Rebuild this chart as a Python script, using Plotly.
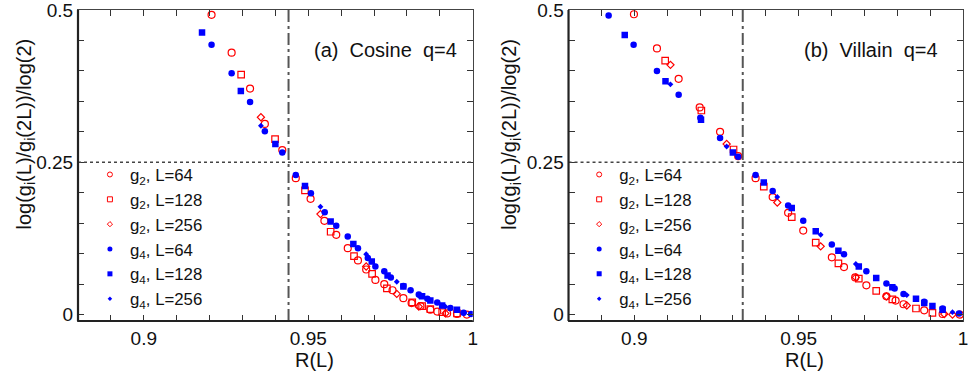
import plotly.graph_objects as go

# ---------------- data ----------------
# Panel (a) Cosine q=4
cos_g2_L64_x = [0.9206, 0.9267, 0.9323, 0.9368, 0.9421, 0.9462, 0.9507, 0.9549, 0.9585, 0.9620, 0.9651, 0.9676,
                0.9704, 0.9731, 0.9756, 0.9789, 0.9814, 0.9841, 0.9871, 0.9892, 0.9922, 0.9952, 0.9982]
cos_g2_L64_y = [0.492, 0.430, 0.371, 0.313, 0.270, 0.224, 0.190, 0.154, 0.131, 0.109, 0.089, 0.074,
                0.057, 0.050, 0.040, 0.027, 0.019, 0.014, 0.008, 0.005, 0.002, 0.001, 0.000]
cos_g2_L128_x = [0.9296, 0.9399, 0.9490, 0.9568, 0.9639, 0.9694, 0.9739, 0.9816, 0.9846, 0.9871, 0.9907, 0.9952]
cos_g2_L128_y = [0.394, 0.288, 0.204, 0.136, 0.096, 0.067, 0.043, 0.020, 0.014, 0.009, 0.004, 0.002]
cos_g2_L256_x = [0.9356, 0.9537, 0.9676, 0.9769, 0.9836, 0.9917]
cos_g2_L256_y = [0.324, 0.165, 0.079, 0.034, 0.013, 0.002]
cos_g4_L64_x = [0.9206, 0.9267, 0.9323, 0.9368, 0.9421, 0.9462, 0.9508, 0.9550, 0.9585, 0.9620, 0.9651, 0.9681,
                0.9704, 0.9731, 0.9751, 0.9789, 0.9811, 0.9836, 0.9862, 0.9892, 0.9932, 0.9972, 0.9995]
cos_g4_L64_y = [0.443, 0.396, 0.349, 0.301, 0.266, 0.229, 0.199, 0.168, 0.146, 0.128, 0.109, 0.093,
                0.079, 0.071, 0.061, 0.047, 0.040, 0.033, 0.026, 0.020, 0.011, 0.003, 0.001]
cos_g4_L128_x = [0.9177, 0.9295, 0.9400, 0.9490, 0.9568, 0.9637, 0.9693, 0.9741, 0.9789, 0.9846, 0.9871, 0.9907, 0.9952]
cos_g4_L128_y = [0.463, 0.367, 0.280, 0.211, 0.153, 0.116, 0.087, 0.064, 0.046, 0.030, 0.023, 0.015, 0.008]
cos_g4_L256_x = [0.9356, 0.9537, 0.9676, 0.9769, 0.9836, 0.9917, 0.9975]
cos_g4_L256_y = [0.310, 0.177, 0.099, 0.054, 0.031, 0.013, 0.003]

# Panel (b) Villain q=4
vil_g2_L64_x = [0.8999, 0.9069, 0.9135, 0.9199, 0.9261, 0.9316, 0.9369, 0.9421, 0.9468, 0.9514, 0.9601, 0.9638,
                0.9672, 0.9706, 0.9767, 0.9795, 0.9819, 0.9882, 0.9938, 0.9990]
vil_g2_L64_y = [0.493, 0.437, 0.387, 0.340, 0.300, 0.260, 0.224, 0.193, 0.167, 0.138, 0.094, 0.078,
                0.061, 0.048, 0.030, 0.023, 0.017, 0.007, 0.001, 0.000]
vil_g2_L128_x = [0.9094, 0.9204, 0.9302, 0.9394, 0.9479, 0.9552, 0.9621, 0.9683, 0.9736, 0.9785, 0.9857, 0.9907]
vil_g2_L128_y = [0.417, 0.335, 0.271, 0.210, 0.160, 0.118, 0.084, 0.059, 0.039, 0.025, 0.010, 0.003]
vil_g2_L256_x = [0.9110, 0.9281, 0.9435, 0.9567, 0.9674, 0.9767, 0.9829, 0.9943, 0.9968]
vil_g2_L256_y = [0.410, 0.280, 0.184, 0.112, 0.061, 0.030, 0.015, 0.001, 0.000]
vil_g4_L64_x = [0.8922, 0.8998, 0.9069, 0.9135, 0.9201, 0.9261, 0.9316, 0.9369, 0.9421, 0.9468, 0.9514, 0.9601,
                0.9638, 0.9706, 0.9767, 0.9792, 0.9819, 0.9882, 0.9938, 0.9988]
vil_g4_L64_y = [0.491, 0.443, 0.400, 0.361, 0.323, 0.290, 0.259, 0.229, 0.203, 0.179, 0.154, 0.115,
                0.099, 0.071, 0.051, 0.043, 0.034, 0.021, 0.010, 0.002]
vil_g4_L128_x = [0.8971, 0.9095, 0.9203, 0.9300, 0.9394, 0.9479, 0.9552, 0.9621, 0.9683, 0.9736, 0.9785, 0.9857,
                 0.9882, 0.9907, 0.9938]
vil_g4_L128_y = [0.459, 0.383, 0.320, 0.266, 0.217, 0.175, 0.137, 0.105, 0.079, 0.060, 0.045, 0.026,
                 0.019, 0.014, 0.008]
vil_g4_L256_x = [0.9110, 0.9281, 0.9435, 0.9567, 0.9674, 0.9829, 0.9968]
vil_g4_L256_y = [0.378, 0.276, 0.193, 0.131, 0.083, 0.032, 0.004]

series_names = ["g<sub>2</sub>, L=64", "g<sub>2</sub>, L=128", "g<sub>2</sub>, L=256",
                "g<sub>4</sub>, L=64", "g<sub>4</sub>, L=128", "g<sub>4</sub>, L=256"]
panel_labels = ["(a)&nbsp;&nbsp;Cosine&nbsp;&nbsp;q=4", "(b)&nbsp;&nbsp;Villain&nbsp;&nbsp;q=4"]
crossing_x = [0.944, 0.933]
ref_y = 0.25
x_tick_vals = [0.88, 0.89, 0.90, 0.91, 0.92, 0.93, 0.94, 0.95, 0.96, 0.97, 0.98, 0.99, 1.00]
x_tick_text = ["", "", "0.9", "", "", "", "", "0.95", "", "", "", "", "1"]
y_tick_vals = [0, 0.05, 0.10, 0.15, 0.20, 0.25, 0.30, 0.35, 0.40, 0.45, 0.50]
y_tick_text = ["0", "", "", "", "", "0.25", "", "", "", "", "0.5"]
y_title = "log(g<sub>i</sub>(L)/g<sub>i</sub>(2L))/log(2)"
x_title = "R(L)"

# ---------------- styles ----------------
RED = "#ff0000"
BLUE = "#0000ff"
styles = [
    dict(symbol="circle-open", size=7, color=RED, line=dict(width=1.2, color=RED)),
    dict(symbol="square-open", size=6.5, color=RED, line=dict(width=1.2, color=RED)),
    dict(symbol="diamond-open", size=5.5, color=RED, line=dict(width=1.2, color=RED)),
    dict(symbol="circle", size=6.5, color=BLUE, line=dict(width=0)),
    dict(symbol="square", size=6.5, color=BLUE, line=dict(width=0)),
    dict(symbol="diamond", size=4.5, color=BLUE, line=dict(width=0)),
]
legend_styles = [
    dict(symbol="circle-open", size=5, color=RED, line=dict(width=1, color=RED)),
    dict(symbol="square-open", size=5, color=RED, line=dict(width=1, color=RED)),
    dict(symbol="diamond-open", size=4, color=RED, line=dict(width=1, color=RED)),
    dict(symbol="circle", size=5, color=BLUE, line=dict(width=0)),
    dict(symbol="square", size=5, color=BLUE, line=dict(width=0)),
    dict(symbol="diamond", size=3.5, color=BLUE, line=dict(width=0)),
]

panels = [
    [(cos_g2_L64_x, cos_g2_L64_y), (cos_g2_L128_x, cos_g2_L128_y), (cos_g2_L256_x, cos_g2_L256_y),
     (cos_g4_L64_x, cos_g4_L64_y), (cos_g4_L128_x, cos_g4_L128_y), (cos_g4_L256_x, cos_g4_L256_y)],
    [(vil_g2_L64_x, vil_g2_L64_y), (vil_g2_L128_x, vil_g2_L128_y), (vil_g2_L256_x, vil_g2_L256_y),
     (vil_g4_L64_x, vil_g4_L64_y), (vil_g4_L128_x, vil_g4_L128_y), (vil_g4_L256_x, vil_g4_L256_y)],
]

FONT = "Liberation Sans, Arial, sans-serif"
W, H = 968, 380
ML, MR, MT, MB = 78, 0, 8, 59
PW = W - ML - MR
PH = H - MT - MB

def px2paper_x(px):
    return (px - ML) / PW

def px2paper_y(py):
    return (H - MB - py) / PH

fig = go.Figure()
axes = [("x", "y", "legend"), ("x2", "y2", "legend2")]
for p, (xa, ya, lg) in enumerate(axes):
    # legend entries
    for i, name in enumerate(series_names):
        fig.add_trace(go.Scatter(x=[None], y=[None], mode="markers", name=name,
                                 marker=legend_styles[i], xaxis=xa, yaxis=ya, legend=lg,
                                 showlegend=True))
    # data
    for i, (xs, ys) in enumerate(panels[p]):
        fig.add_trace(go.Scatter(x=xs, y=ys, mode="markers", name=series_names[i],
                                 marker=styles[i], xaxis=xa, yaxis=ya, showlegend=False,
                                 hoverinfo="x+y"))

axis_common = dict(
    showgrid=False, zeroline=False, showline=True, linecolor="#444", linewidth=1,
    mirror="ticks", ticks="inside", ticklen=6, tickcolor="#333", tickwidth=1,
    tickfont=dict(family=FONT, size=19, color="#111"), ticklabeloverflow="allow",
)
x_dom = [[0, px2paper_x(475)], [px2paper_x(571.3), 1.0]]
legend_common = dict(xanchor="left", yanchor="top", bgcolor="rgba(0,0,0,0)",
                     font=dict(family=FONT, size=16.8, color="#111"), tracegroupgap=0)
fig.update_layout(
    width=W, height=H, margin=dict(l=ML, r=MR, t=MT, b=MB),
    paper_bgcolor="white", plot_bgcolor="white",
    font=dict(family=FONT, size=18, color="#111"),
    xaxis=dict(domain=x_dom[0], range=[0.88, 1.0], tickvals=x_tick_vals, ticktext=x_tick_text,
               anchor="y", **axis_common),
    yaxis=dict(domain=[0, 1], range=[-0.0105, 0.5], tickvals=y_tick_vals, ticktext=y_tick_text,
               anchor="x", **axis_common),
    xaxis2=dict(domain=x_dom[1], range=[0.88, 1.0], tickvals=x_tick_vals, ticktext=x_tick_text,
                anchor="y2", **axis_common),
    yaxis2=dict(domain=[0, 1], range=[-0.0105, 0.5], tickvals=y_tick_vals, ticktext=y_tick_text,
                anchor="x2", **axis_common),
    legend=dict(x=px2paper_x(90), y=px2paper_y(156), **legend_common),
    legend2=dict(x=px2paper_x(582), y=px2paper_y(156), **legend_common),
    showlegend=True,
)

shapes = []
annotations = []
title_x_px = [316, 809]
ytitle_x_px = [25, 513]
for p, (xa, ya, lg) in enumerate(axes):
    # reference lines
    shapes.append(dict(type="line", xref=xa, yref=ya + " domain", x0=crossing_x[p], x1=crossing_x[p],
                       y0=0, y1=1, line=dict(color="#555", width=2, dash="12px,4px,3px,4px"), layer="above"))
    shapes.append(dict(type="line", xref=xa + " domain", yref=ya, x0=0, x1=1, y0=ref_y, y1=ref_y,
                       line=dict(color="#444", width=1.5, dash="3px,3px"), layer="above"))
    # thick left & bottom axis lines
    shapes.append(dict(type="line", xref=xa + " domain", yref=ya + " domain", x0=0, x1=1, y0=0, y1=0,
                       line=dict(color="#222", width=2.2), layer="above"))
    shapes.append(dict(type="line", xref=xa + " domain", yref=ya + " domain", x0=0, x1=0, y0=0, y1=1,
                       line=dict(color="#222", width=2.2), layer="above"))
    annotations.append(dict(text=panel_labels[p], xref=xa, yref=ya, x=0.951, y=0.435,
                            xanchor="left", yanchor="middle", showarrow=False,
                            font=dict(family=FONT, size=20, color="#111")))
    annotations.append(dict(text=x_title, xref="paper", yref="paper", x=px2paper_x(title_x_px[p]),
                            y=px2paper_y(360), xanchor="center", yanchor="middle", showarrow=False,
                            font=dict(family=FONT, size=20, color="#111")))
    annotations.append(dict(text=y_title, xref="paper", yref="paper", x=px2paper_x(ytitle_x_px[p]),
                            y=px2paper_y(133), xanchor="center", yanchor="middle", showarrow=False,
                            textangle=-90, font=dict(family=FONT, size=20, color="#111")))

fig.update_layout(shapes=shapes, annotations=annotations)
fig.write_html("out.html")
